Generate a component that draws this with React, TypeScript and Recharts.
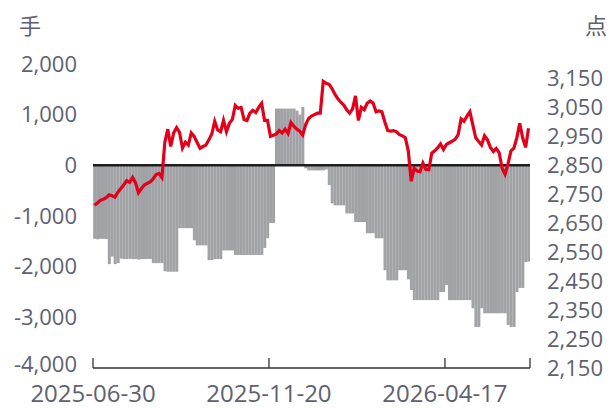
import React from 'react';
import { ComposedChart, Bar, Line, XAxis, YAxis, ReferenceLine } from 'recharts';

const positionValues: number[] = [
  -1450, -1460, -1450, -1450, -1455,
  -1950, -1800, -1950, -1930,
  -1840, -1850, -1850, -1845, -1850, -1850, -1860, -1850, -1850, -1845, -1850,
  -1930, -1930, -1930, -1930,
  -2090, -2100, -2100, -2100, -2100,
  -1240, -1240, -1240, -1240, -1240,
  -1480,
  -1580, -1580, -1580, -1580,
  -1870, -1870,
  -1850, -1850, -1850,
  -1680, -1680, -1680, -1680,
  -1770, -1770, -1770, -1770, -1770, -1770, -1770, -1770, -1770, -1770,
  -1630,
  -1440,
  -1140, -1140,
  1120, 1120, 1120, 1120, 1120, 1120, 1120,
  1080, 1000, 1150,
  -60,
  -100, -100, -100, -100, -100, -100,
  -80,
  -390,
  -750,
  -790, -790, -790, -790,
  -950, -950, -950,
  -1120, -1120, -1120, -1120,
  -1340, -1340, -1340,
  -1440, -1440, -1440,
  -2070,
  -2270, -2270, -2270, -2270,
  -2070, -2070, -2070,
  -2250,
  -2460,
  -2660, -2660, -2660, -2660, -2660, -2660, -2660, -2660, -2660,
  -2500, -2500,
  -2360,
  -2660, -2660, -2660, -2660, -2660, -2660, -2660, -2660,
  -2820,
  -3190,
  -3190,
  -2820,
  -2920, -2920, -2920, -2920, -2920, -2920, -2920, -2920,
  -3150,
  -3190, -3190,
  -2500,
  -2420, -2420,
  -1910,
  -1900,
];

const indexValues: number[] = [
  2712, 2720, 2729, 2733, 2738, 2748, 2745, 2740, 2757, 2770,
  2783, 2797, 2791, 2808, 2790, 2755, 2770, 2782, 2788, 2793,
  2803, 2818, 2822, 2808, 2930, 2975, 2915, 2962, 2980, 2964,
  2910, 2930, 2920, 2962, 2950, 2929, 2909, 2915, 2920, 2938,
  2958, 3002, 2972, 2966, 3005, 2966, 2995, 3008, 3057, 3047,
  3050, 3008, 3005, 3030, 3040, 3032, 3050, 3064, 3005, 3005,
  2950, 2954, 2958, 2970, 2962, 2975, 2960, 2998, 2985, 2975,
  2968, 2955, 2990, 3012, 3020, 3025, 3030, 3030, 3140, 3133,
  3130, 3115, 3095, 3080, 3068, 3058, 3042, 3030, 3045, 3090,
  3005, 3050, 3042, 3065, 3072, 3065, 3035, 3038, 3035, 3000,
  2970, 2968, 2970, 2966, 2956, 2952, 2945, 2900, 2795, 2840,
  2830, 2828, 2858, 2836, 2835, 2892, 2900, 2910, 2924, 2905,
  2922, 2928, 2934, 2940, 2956, 3010, 3002, 3020, 3035, 2990,
  2945, 2932, 2920, 2952, 2938, 2912, 2898, 2908, 2893, 2840,
  2819, 2855, 2900, 2909, 2945, 2995, 2945, 2912, 2978,
];

const xTickPositions: number[] = [-0.5, 59.5, 119.5, 148.5];
const xTickLabels: string[] = ['2025-06-30', '2025-11-20', '2026-04-17', ''];
const leftTicks: number[] = [-4000, -3000, -2000, -1000, 0, 1000, 2000];
const rightTicks: number[] = [2150, 2250, 2350, 2450, 2550, 2650, 2750, 2850, 2950, 3050, 3150];

const data = positionValues.map((p, i) => ({ i, pos: p, idx: indexValues[i] }));

const FONT = '"Open Sans", "Noto Sans", "Noto Sans CJK SC", sans-serif';
const TEXT_COLOR = '#5e6170';

const fmt = (v: number) => v.toLocaleString('en-US');

const XTick = (props: any) => {
  const { x, y, payload } = props;
  const k = xTickPositions.indexOf(payload.value);
  const label = k >= 0 ? xTickLabels[k] : '';
  return (
    <g>
      <line x1={x} y1={y} x2={x} y2={y - 10} stroke="#333" strokeWidth={1.3} />
      {label ? (
        <text x={x} y={y + 34} textAnchor="middle" fill={TEXT_COLOR} fontSize={24} fontFamily={FONT}>
          {label}
        </text>
      ) : null}
    </g>
  );
};

const LeftTick = (props: any) => {
  const { x, y, payload } = props;
  const shift = payload.value === leftTicks[0] ? -4 : 0;
  return (
    <text x={x} y={y + shift} dy="0.355em" textAnchor="end" fill={TEXT_COLOR} fontSize={22} fontFamily={FONT}>
      {fmt(payload.value)}
    </text>
  );
};

export default function App() {
  return (
    <div style={{ position: 'absolute', left: 0, top: 0, width: 610, height: 409, background: '#fff' }}>
      <div style={{ position: 'absolute', left: 19, top: 10, fontSize: 22, color: TEXT_COLOR, fontFamily: FONT, lineHeight: '30px' }}>手</div>
      <div style={{ position: 'absolute', left: 585, top: 10, fontSize: 22, color: TEXT_COLOR, fontFamily: FONT, lineHeight: '30px' }}>点</div>
      <ComposedChart
        width={610}
        height={409}
        data={data}
        margin={{ top: 64, right: 0, bottom: 0, left: 0 }}
        barCategoryGap="5%"
      >
        <XAxis
          dataKey="i"
          type="number"
          domain={[-0.5, 148.5]}
          ticks={xTickPositions}
          interval={0}
          allowDataOverflow
          height={41}
          tickSize={0}
          tickMargin={0}
          tickLine={false}
          axisLine={{ stroke: '#333', strokeWidth: 1.3 }}
          tick={<XTick />}
        />
        <YAxis
          yAxisId="left"
          orientation="left"
          width={93}
          domain={[-4000, 2000]}
          ticks={leftTicks}
          interval={0}
          axisLine={false}
          tickLine={false}
          tickSize={0}
          tickMargin={16}
          tick={<LeftTick />}
        />
        <YAxis
          yAxisId="right"
          orientation="right"
          width={80}
          domain={[2150, 3200]}
          ticks={rightTicks}
          interval={0}
          allowDataOverflow
          axisLine={false}
          tickLine={false}
          tickSize={0}
          tickMargin={17}
          tickFormatter={fmt}
          tick={{ fill: TEXT_COLOR, fontSize: 22, fontFamily: FONT, textAnchor: 'start' }}
        />
        <Bar yAxisId="left" dataKey="pos" fill="#a0a2a6" isAnimationActive={false} />
        <ReferenceLine yAxisId="left" y={0} stroke="#1e1e1e" strokeWidth={2.5} />
        <Line
          yAxisId="right"
          dataKey="idx"
          type="linear"
          stroke="#e2001a"
          strokeWidth={3.2}
          dot={false}
          activeDot={false}
          isAnimationActive={false}
        />
      </ComposedChart>
    </div>
  );
}
